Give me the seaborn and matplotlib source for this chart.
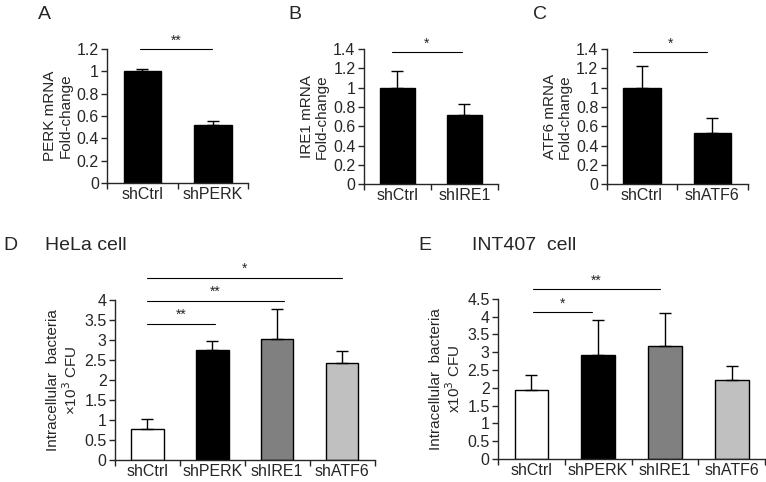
import numpy as np
import pandas as pd
import matplotlib
matplotlib.use("Agg")
import matplotlib.pyplot as plt
import seaborn as sns

sns.set_style("ticks")
plt.rcParams["font.family"] = ["Liberation Sans", "DejaVu Sans"]

# === Data ===
a_groups = ["shCtrl", "shPERK"]
a_values = [1.0, 0.52]
a_err = [0.02, 0.04]

b_groups = ["shCtrl", "shIRE1"]
b_values = [1.0, 0.72]
b_err = [0.17, 0.11]

c_groups = ["shCtrl", "shATF6"]
c_values = [1.0, 0.53]
c_err = [0.23, 0.16]

d_groups = ["shCtrl", "shPERK", "shIRE1", "shATF6"]
d_values = [0.77, 2.75, 3.02, 2.42]
d_err = [0.25, 0.21, 0.75, 0.30]

e_groups = ["shCtrl", "shPERK", "shIRE1", "shATF6"]
e_values = [1.93, 2.93, 3.17, 2.22]
e_err = [0.42, 0.98, 0.92, 0.40]

bar_colors = ["white", "black", "#808080", "#c0c0c0"]

fig = plt.figure(figsize=(7.66, 4.82), dpi=100)


def panel(rect, groups, values, err, colors, ymax, ystep, ylabel, sig, width=0.53):
    ax = fig.add_axes(rect)
    df = pd.DataFrame({"group": groups, "value": values})
    sns.barplot(data=df, x="group", y="value", hue="group", palette=colors,
                edgecolor="black", linewidth=1, width=width, legend=False, ax=ax)
    x = np.arange(len(groups))
    ax.errorbar(x, values, yerr=[np.zeros(len(err)), err], fmt="none",
                ecolor="black", elinewidth=1, capsize=4, capthick=1)
    ax.set_xlim(-0.5, len(groups) - 0.5)
    ax.set_ylim(0, ymax)
    ticks = np.arange(0, ymax + 1e-9, ystep)
    ax.set_yticks(ticks)
    ax.set_yticklabels([f"{t:g}" for t in ticks], fontsize=11.5)
    ax.tick_params(axis="x", which="major", length=0, labelsize=11.5, pad=3)
    ax.set_xticks(np.arange(len(groups) + 1) - 0.5, minor=True)
    ax.tick_params(axis="x", which="minor", length=4, width=1)
    ax.tick_params(axis="y", length=4, width=1, pad=2)
    ax.set_xlabel("")
    ax.set_ylabel(ylabel, fontsize=11, labelpad=3, linespacing=1.1)
    for s in ["top", "right"]:
        ax.spines[s].set_visible(False)
    for s in ["left", "bottom"]:
        ax.spines[s].set_linewidth(1)
    for x0, x1, yline, label in sig:
        ax.plot([x0, x1], [yline, yline], color="black", lw=0.8, clip_on=False)
        ax.text((x0 + x1) / 2, yline + ymax * 0.01, label, ha="center", va="bottom",
                fontsize=10, clip_on=False)
    return ax


panel([0.140, 0.620, 0.184, 0.278], a_groups, a_values, a_err, ["black", "black"],
      1.2, 0.2, "PERK mRNA\nFold-change", [(-0.03, 0.99, 1.2, "**")])
panel([0.475, 0.618, 0.175, 0.280], b_groups, b_values, b_err, ["black", "black"],
      1.4, 0.2, "IRE1 mRNA\nFold-change", [(-0.08, 0.96, 1.37, "*")])
panel([0.792, 0.618, 0.184, 0.280], c_groups, c_values, c_err, ["black", "black"],
      1.4, 0.2, "ATF6 mRNA\nFold-change", [(-0.12, 0.92, 1.37, "*")])
panel([0.150, 0.046, 0.339, 0.332], d_groups, d_values, d_err, bar_colors,
      4, 0.5, "Intracellular  bacteria\n×10$^3$ CFU",
      [(0.0, 1.04, 3.4, "**"), (0.0, 2.1, 3.98, "**"), (0.0, 3.0, 4.55, "*")], width=0.5)
panel([0.650, 0.048, 0.349, 0.332], e_groups, e_values, e_err, bar_colors,
      4.5, 0.5, "Intracellular  bacteria\nx10$^3$ CFU",
      [(0.02, 0.91, 4.13, "*"), (0.02, 1.93, 4.78, "**")], width=0.5)

fig.text(0.050, 0.970, "A", fontsize=14, va="center")
fig.text(0.376, 0.970, "B", fontsize=14, va="center")
fig.text(0.696, 0.970, "C", fontsize=14, va="center")
fig.text(0.005, 0.490, "D", fontsize=14, va="center")
fig.text(0.059, 0.490, "HeLa cell", fontsize=14, va="center")
fig.text(0.546, 0.490, "E", fontsize=14, va="center")
fig.text(0.616, 0.490, "INT407  cell", fontsize=14, va="center")

fig.savefig("out.png", dpi=100)
